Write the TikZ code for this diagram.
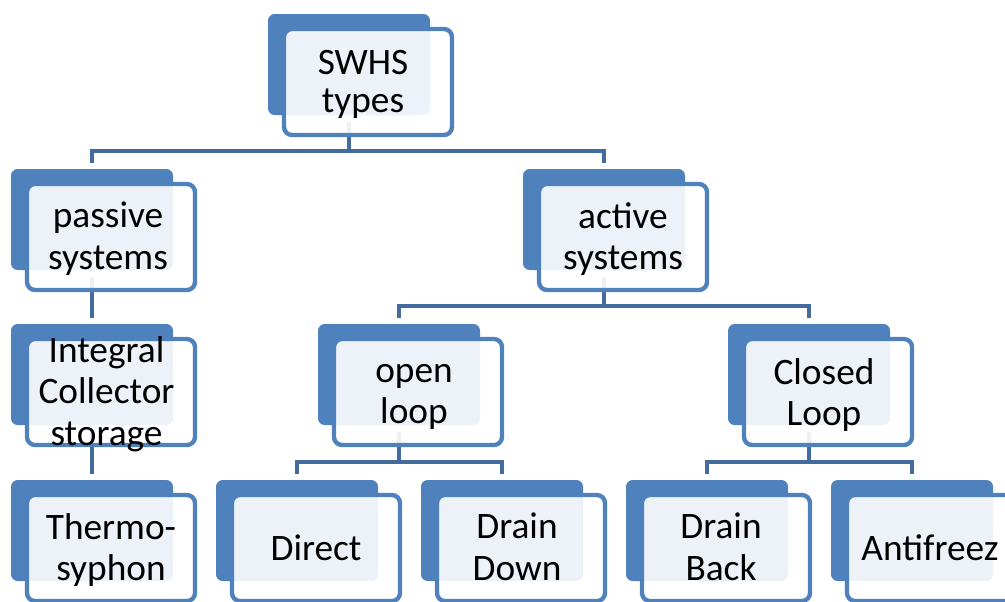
\documentclass[tikz,border=0pt]{standalone}
\usepackage{fontspec}
\setmainfont{Carlito}
\usetikzlibrary{backgrounds}

\tikzset{every picture/.style={line width=0.75pt}}
\tikzset{
	backbox/.style={draw=none, fill={rgb, 255:red, 79; green, 129; blue, 189 }, rounded corners=5pt, minimum width=121.5pt, minimum height=75.75pt, inner sep=0pt},
	frontbox/.style={draw={rgb, 255:red, 79; green, 129; blue, 189 }, line width=3.25pt, fill=white, fill opacity=0.9, rounded corners=6pt, minimum width=126pt, minimum height=79.5pt, inner sep=0pt},
	boxtext/.style={align=center, inner sep=0pt, font=\fontsize{28}{31}\selectfont, execute at begin node=\strut, execute at end node=\strut},
	link/.style={draw={rgb, 255:red, 68; green, 107; blue, 160 }, line width=3.5pt, shorten >=4.5pt}
}

\begin{document}
\begin{tikzpicture}[x=0.75pt,y=0.75pt,yscale=-1,xscale=1]
	\useasboundingbox (0,0) rectangle (1005,601);

	%Shape: Rounded Rect [SWHS types]
	\node[backbox] (swhsB) at (349,64.5) {};
	\node[frontbox] (swhs) at (368,82) {};
	% Text Node
	\node[boxtext, font=\fontsize{28}{28}\selectfont] (swhsT) at (363,87) {SWHS\\types};

	%Shape: Rounded Rect [passive systems]
	\node[backbox] (passiveB) at (92,219.5) {};
	\node[frontbox] (passive) at (111,237) {};
	% Text Node
	\node[boxtext] (passiveT) at (108,242) {passive\\systems};
	%Shape: Rounded Rect [active systems]
	\node[backbox] (activeB) at (604,219.5) {};
	\node[frontbox] (active) at (623,237) {};
	% Text Node
	\node[boxtext] (activeT) at (623,242) {active\\systems};

	%Shape: Rounded Rect [Integral Collector storage]
	\node[backbox] (icsB) at (92,374.5) {};
	\node[frontbox] (ics) at (111,392) {};
	% Text Node
	\node[boxtext] (icsT) at (106.5,397) {Integral\\Collector\\storage};
	%Shape: Rounded Rect [open loop]
	\node[backbox] (openB) at (399,374.5) {};
	\node[frontbox] (open) at (418,392) {};
	% Text Node
	\node[boxtext] (openT) at (414,400) {open\\loop};
	%Shape: Rounded Rect [Closed Loop]
	\node[backbox] (closedB) at (809,374.5) {};
	\node[frontbox] (closed) at (828,392) {};
	% Text Node
	\node[boxtext] (closedT) at (824,398) {Closed\\Loop};

	%Shape: Rounded Rect [Thermo-syphon]
	\node[backbox] (thermoB) at (92,530.5) {};
	\node[frontbox] (thermo) at (111,548) {};
	% Text Node
	\node[boxtext] (thermoT) at (111,553) {Thermo-\\syphon};
	%Shape: Rounded Rect [Direct]
	\node[backbox] (directB) at (297,530.5) {};
	\node[frontbox] (direct) at (316,548) {};
	% Text Node
	\node[boxtext] (directT) at (316,552) {Direct};
	%Shape: Rounded Rect [Drain Down]
	\node[backbox] (ddownB) at (502,530.5) {};
	\node[frontbox] (ddown) at (521,548) {};
	% Text Node
	\node[boxtext] (ddownT) at (517,553) {Drain\\Down};
	%Shape: Rounded Rect [Drain Back]
	\node[backbox] (dbackB) at (707,530.5) {};
	\node[frontbox] (dback) at (726,548) {};
	% Text Node
	\node[boxtext] (dbackT) at (721,553) {Drain\\Back};
	%Shape: Rounded Rect [Antifreez]
	\node[backbox] (antiB) at (912,530.5) {};
	\node[frontbox] (anti) at (931,548) {};
	% Text Node
	\node[boxtext] (antiT) at (930,552) {Antifreez};

	%Straight Lines: tree connectors, kept under the boxes
	\begin{scope}[on background layer]
	\coordinate (bus1) at (349,151);
	\coordinate (bus2) at (604,306);
	\coordinate (bus3) at (399,462);
	\coordinate (bus4) at (809,462);
	\draw[link, shorten <=4.5pt] (swhsB.south) -- (bus1) -| (passiveB.north);
	\draw[link] (bus1) -| (activeB.north);
	\draw[link, shorten <=4.5pt] (passiveB.south) -- (icsB.north);
	\draw[link, shorten <=4.5pt] (icsB.south) -- (thermoB.north);
	\draw[link, shorten <=4.5pt] (activeB.south) -- (bus2) -| (openB.north);
	\draw[link] (bus2) -| (closedB.north);
	\draw[link, shorten <=4.5pt] (openB.south) -- (bus3) -| (directB.north);
	\draw[link] (bus3) -| (ddownB.north);
	\draw[link, shorten <=4.5pt] (closedB.south) -- (bus4) -| (dbackB.north);
	\draw[link] (bus4) -| (antiB.north);
	\end{scope}

\end{tikzpicture}
\end{document}
